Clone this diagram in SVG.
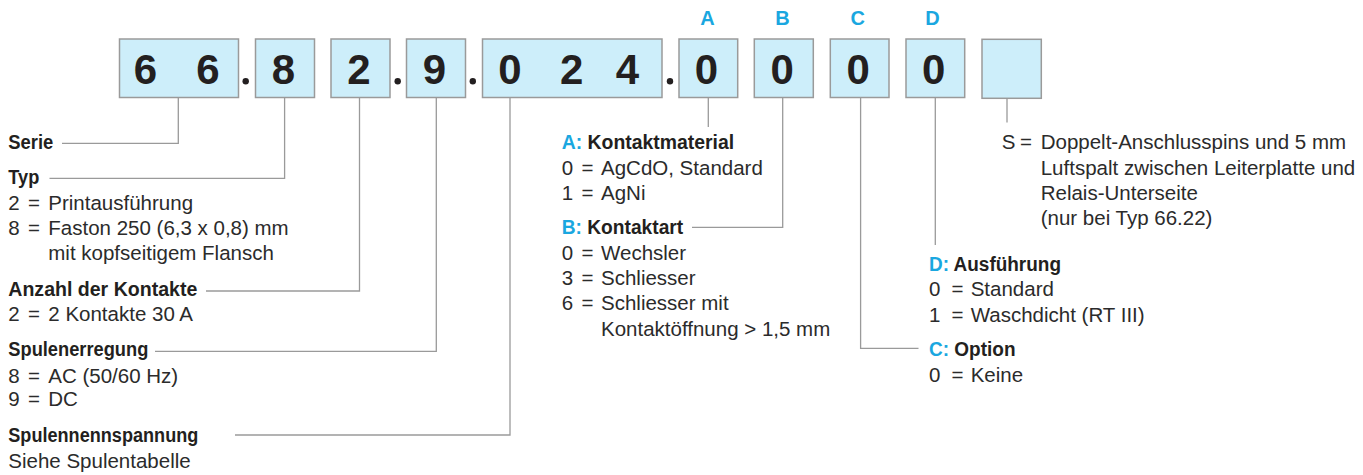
<svg xmlns="http://www.w3.org/2000/svg" width="1363" height="475" viewBox="0 0 1363 475">
  <style>
    .box { fill: #cdeefa; stroke: #9a9a9a; stroke-width: 1.5; }
    .digit { font-family: "Liberation Sans", Arial, sans-serif; font-weight: bold; font-size: 42px; fill: #231f20; text-anchor: middle; }
    .dot { fill: #231f20; }
    .key { font-family: "Liberation Sans", Arial, sans-serif; font-weight: bold; font-size: 20px; fill: #1aa7e0; text-anchor: middle; }
    .hd { font-family: "Liberation Sans", Arial, sans-serif; font-weight: bold; font-size: 19.5px; fill: #231f20; }
    .hd .k { fill: #1aa7e0; }
    .tx { font-family: "Liberation Sans", Arial, sans-serif; font-size: 20.5px; fill: #2b2b2b; }
    .wire { fill: none; stroke: #9a9a9a; stroke-width: 1.3; }
  </style>

  <!-- code boxes -->
  <g id="box-serie">
    <rect class="box" x="119.5" y="39" width="119" height="58.5"/>
    <text class="digit" x="145.5" y="84">6</text>
    <text class="digit" x="208" y="84">6</text>
  </g>
  <circle class="dot" cx="245.7" cy="81.2" r="3.2"/>
  <g id="box-typ">
    <rect class="box" x="255.5" y="39" width="59" height="58.5"/>
    <text class="digit" x="283.5" y="84">8</text>
  </g>
  <g id="box-kontakte">
    <rect class="box" x="331" y="39" width="59" height="58.5"/>
    <text class="digit" x="359" y="84">2</text>
  </g>
  <circle class="dot" cx="397.7" cy="81.2" r="3.2"/>
  <g id="box-erregung">
    <rect class="box" x="406.5" y="39" width="59" height="58.5"/>
    <text class="digit" x="434.5" y="84">9</text>
  </g>
  <circle class="dot" cx="472.8" cy="81.2" r="3.2"/>
  <g id="box-spannung">
    <rect class="box" x="482.5" y="39" width="179.5" height="58.5"/>
    <text class="digit" x="510" y="84">0</text>
    <text class="digit" x="571.7" y="84">2</text>
    <text class="digit" x="627.5" y="84">4</text>
  </g>
  <circle class="dot" cx="670" cy="81.2" r="3.2"/>
  <g id="box-a">
    <text class="key" x="707.5" y="25">A</text>
    <rect class="box" x="679" y="39" width="58.7" height="58.5"/>
    <text class="digit" x="706.5" y="84">0</text>
  </g>
  <g id="box-b">
    <text class="key" x="782.5" y="25">B</text>
    <rect class="box" x="754.3" y="39" width="59" height="58.5"/>
    <text class="digit" x="782.2" y="84">0</text>
  </g>
  <g id="box-c">
    <text class="key" x="857.8" y="25">C</text>
    <rect class="box" x="830.3" y="39" width="58.7" height="58.5"/>
    <text class="digit" x="858.3" y="84">0</text>
  </g>
  <g id="box-d">
    <text class="key" x="932.4" y="25">D</text>
    <rect class="box" x="906" y="39" width="58.7" height="58.5"/>
    <text class="digit" x="933.6" y="84">0</text>
  </g>
  <g id="box-s">
    <rect class="box" x="982" y="39.3" width="59.3" height="59"/>
  </g>

  <!-- leader lines -->
  <g id="connectors">
    <path class="wire" d="M178.3,97.5 V143.3 H62"/>
    <path class="wire" d="M284.6,97.5 V178.3 H49.5"/>
    <path class="wire" d="M359.5,97.5 V291 H206"/>
    <path class="wire" d="M436.3,97.5 V351.3 H155"/>
    <path class="wire" d="M510,97.5 V435 H235"/>
    <path class="wire" d="M708.3,97.5 V127"/>
    <path class="wire" d="M782.7,97.5 V227.3 H692"/>
    <path class="wire" d="M860.6,97.5 V348.3 H918.5"/>
    <path class="wire" d="M935.3,97.5 V245"/>
    <path class="wire" d="M1007,98.3 V122.5"/>
  </g>

  <!-- left column -->
  <g id="label-serie">
    <text class="hd" x="8.3" y="149.3" textLength="45" lengthAdjust="spacingAndGlyphs">Serie</text>
  </g>
  <g id="label-typ">
    <text class="hd" x="8.3" y="184" textLength="31" lengthAdjust="spacingAndGlyphs">Typ</text>
    <text class="tx" y="209.5"><tspan x="8.3">2</tspan><tspan x="28">=</tspan><tspan x="48.3">Printausführung</tspan></text>
    <text class="tx" y="235"><tspan x="8.3">8</tspan><tspan x="28">=</tspan><tspan x="48.3">Faston 250 (6,3 x 0,8) mm</tspan></text>
    <text class="tx" x="48.3" y="260">mit kopfseitigem Flansch</text>
  </g>
  <g id="label-kontakte">
    <text class="hd" x="8.3" y="295.5" textLength="189" lengthAdjust="spacingAndGlyphs">Anzahl der Kontakte</text>
    <text class="tx" y="320.7"><tspan x="8.3">2</tspan><tspan x="28">=</tspan><tspan x="48.3">2 Kontakte 30 A</tspan></text>
  </g>
  <g id="label-erregung">
    <text class="hd" x="8.3" y="356" textLength="140" lengthAdjust="spacingAndGlyphs">Spulenerregung</text>
    <text class="tx" y="383"><tspan x="8.3">8</tspan><tspan x="28">=</tspan><tspan x="48.3">AC (50/60 Hz)</tspan></text>
    <text class="tx" y="406"><tspan x="8.3">9</tspan><tspan x="28">=</tspan><tspan x="48.3">DC</tspan></text>
  </g>
  <g id="label-spannung">
    <text class="hd" x="8.3" y="441.7" textLength="190" lengthAdjust="spacingAndGlyphs">Spulennennspannung</text>
    <text class="tx" x="8.3" y="468">Siehe Spulentabelle</text>
  </g>

  <!-- middle column -->
  <g id="label-a">
    <text class="hd" x="561.7" y="149.3" textLength="172.5" lengthAdjust="spacingAndGlyphs"><tspan class="k">A:</tspan> Kontaktmaterial</text>
    <text class="tx" y="174.5"><tspan x="561.7">0</tspan><tspan x="581.5">=</tspan><tspan x="601">AgCdO, Standard</tspan></text>
    <text class="tx" y="200"><tspan x="561.7">1</tspan><tspan x="581.5">=</tspan><tspan x="601">AgNi</tspan></text>
  </g>
  <g id="label-b">
    <text class="hd" x="561.7" y="234" textLength="121.5" lengthAdjust="spacingAndGlyphs"><tspan class="k">B:</tspan> Kontaktart</text>
    <text class="tx" y="259.5"><tspan x="561.7">0</tspan><tspan x="581.5">=</tspan><tspan x="601">Wechsler</tspan></text>
    <text class="tx" y="285"><tspan x="561.7">3</tspan><tspan x="581.5">=</tspan><tspan x="601">Schliesser</tspan></text>
    <text class="tx" y="310"><tspan x="561.7">6</tspan><tspan x="581.5">=</tspan><tspan x="601">Schliesser mit</tspan></text>
    <text class="tx" x="601" y="335.5">Kontaktöffnung &gt; 1,5 mm</text>
  </g>

  <!-- right column -->
  <g id="label-s">
    <text class="tx" y="149.3"><tspan x="1001.7">S</tspan><tspan x="1020">=</tspan><tspan x="1040.7">Doppelt-Anschlusspins und 5 mm</tspan></text>
    <text class="tx" x="1040.7" y="175">Luftspalt zwischen Leiterplatte und</text>
    <text class="tx" x="1040.7" y="200.3">Relais-Unterseite</text>
    <text class="tx" x="1040.7" y="225.3">(nur bei Typ 66.22)</text>
  </g>
  <g id="label-d">
    <text class="hd" x="929" y="271" textLength="132" lengthAdjust="spacingAndGlyphs"><tspan class="k">D:</tspan> Ausführung</text>
    <text class="tx" y="296"><tspan x="929">0</tspan><tspan x="951.5">=</tspan><tspan x="970.7">Standard</tspan></text>
    <text class="tx" y="321.5"><tspan x="929">1</tspan><tspan x="951.5">=</tspan><tspan x="970.7">Waschdicht (RT III)</tspan></text>
  </g>
  <g id="label-c">
    <text class="hd" x="929" y="356" textLength="86.5" lengthAdjust="spacingAndGlyphs"><tspan class="k">C:</tspan> Option</text>
    <text class="tx" y="381.7"><tspan x="929">0</tspan><tspan x="951.5">=</tspan><tspan x="970.7">Keine</tspan></text>
  </g>
</svg>
